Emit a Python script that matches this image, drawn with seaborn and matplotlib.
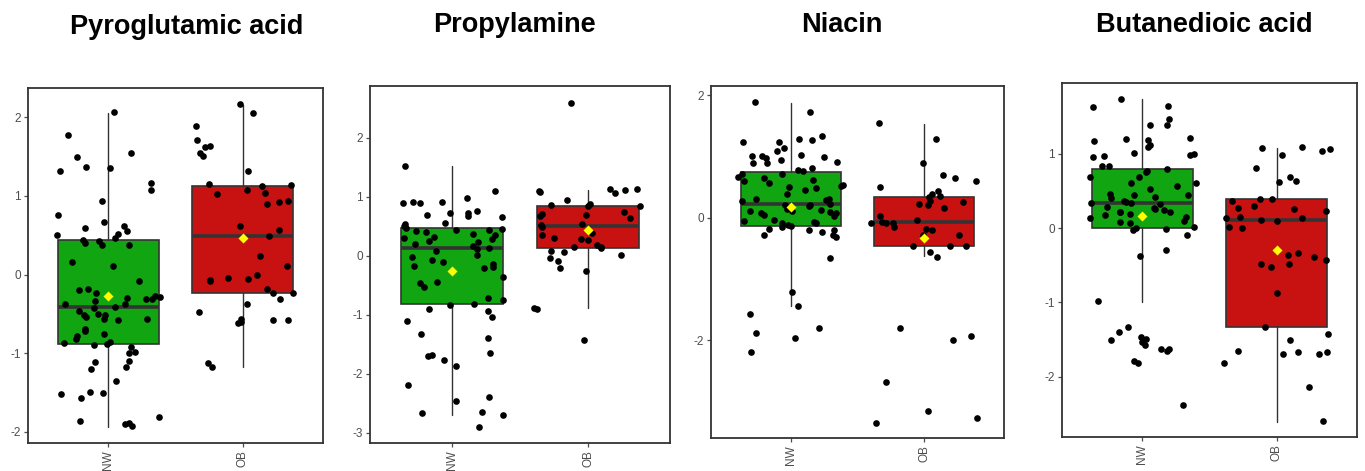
import numpy as np
import pandas as pd
import matplotlib
matplotlib.use("Agg")
import matplotlib.pyplot as plt
import seaborn as sns

sns.set_theme(style="white")
plt.rcParams['font.family'] = ['Liberation Sans', 'DejaVu Sans']

groups = ["NW", "OB"]
titles = ["Pyroglutamic acid", "Propylamine", "Niacin", "Butanedioic acid"]

# ---------------- data ----------------
pyro_nw = [2.07, 1.54, 1.37, 1.36, 1.16, 1.07, 1.77, 1.49, 1.31, 0.93, 0.76, 0.67, 0.62, 0.59,
           0.55, 0.52, 0.50, 0.46, 0.44, 0.42, 0.40, 0.37, 0.37, 0.16, 0.11, -0.08, -0.18, -0.19,
           -0.23, -0.27, -0.28, -0.30, -0.31, -0.31, -0.33, -0.37, -0.38, -0.41, -0.43, -0.46,
           -0.50, -0.51, -0.52, -0.54, -0.56, -0.57, -0.58, -0.69, -0.72, -0.76, -0.78, -0.82,
           -0.86, -0.87, -0.88, -0.89, -0.92, -0.99, -1.00, -1.10, -1.11, -1.18, -1.20, -1.35,
           -1.49, -1.51, -1.52, -1.57, -1.81, -1.86, -1.88, -1.90, -1.93]
pyro_ob = [2.17, 2.05, 1.89, 1.71, 1.63, 1.62, 1.54, 1.51, 1.32, 1.15, 1.14, 1.13, 1.07, 1.04,
           1.02, 0.93, 0.92, 0.90, 0.62, 0.56, 0.49, 0.23, 0.11, -0.01, -0.04, -0.06, -0.07,
           -0.08, -0.18, -0.23, -0.24, -0.31, -0.38, -0.48, -0.57, -0.58, -0.58, -0.60, -0.61,
           -1.18, -1.13]

propyl_nw = [1.53, 1.10, 0.98, 0.92, 0.91, 0.89, 0.90, 0.77, 0.73, 0.72, 0.69, 0.67, 0.66, 0.56,
             0.54, 0.50, 0.47, 0.45, 0.44, 0.44, 0.43, 0.41, 0.38, 0.36, 0.32, 0.30, 0.28, 0.26,
             0.24, 0.21, 0.17, 0.13, 0.11, 0.09, 0.01, -0.02, -0.07, -0.11, -0.14, -0.17, -0.18,
             -0.21, -0.35, -0.45, -0.46, -0.53, -0.72, -0.74, -0.81, -0.83, -0.90, -0.94, -1.04,
             -1.10, -1.32, -1.39, -1.64, -1.68, -1.69, -1.77, -1.86, -2.18, -2.39, -2.45, -2.65,
             -2.67, -2.69, -2.90]
propyl_ob = [2.60, 1.14, 1.13, 1.11, 1.10, 1.09, 1.06, 0.95, 0.88, 0.86, 0.85, 0.84, 0.75, 0.71,
             0.70, 0.67, 0.64, 0.54, 0.52, 0.49, 0.39, 0.36, 0.30, 0.28, 0.27, 0.19, 0.16, 0.15,
             0.13, 0.09, 0.06, 0.02, -0.03, -0.08, -0.21, -0.25, -0.89, -0.90, -1.43]

niacin_nw = [1.89, 1.72, 1.33, 1.28, 1.26, 1.24, 1.24, 1.13, 1.09, 1.03, 1.01, 1.00, 0.99, 0.98,
             0.94, 0.91, 0.89, 0.89, 0.81, 0.78, 0.76, 0.72, 0.71, 0.67, 0.64, 0.62, 0.59, 0.56,
             0.53, 0.51, 0.50, 0.48, 0.45, 0.38, 0.31, 0.30, 0.29, 0.27, 0.23, 0.21, 0.20, 0.19,
             0.14, 0.13, 0.11, 0.10, 0.09, 0.08, 0.07, 0.04, 0.02, -0.04, -0.05, -0.07, -0.08,
             -0.09, -0.12, -0.14, -0.15, -0.19, -0.20, -0.21, -0.24, -0.28, -0.29, -0.32, -0.66,
             -1.21, -1.44, -1.58, -1.80, -1.88, -1.97, -2.20]
niacin_ob = [1.54, 1.28, 0.90, 0.70, 0.64, 0.60, 0.50, 0.43, 0.38, 0.35, 0.33, 0.27, 0.26, 0.22,
             0.21, 0.15, 0.02, -0.04, -0.07, -0.08, -0.08, -0.09, -0.15, -0.19, -0.20, -0.28,
             -0.29, -0.46, -0.47, -0.47, -0.56, -0.64, -1.80, -1.93, -2.00, -2.68, -3.16, -3.28,
             -3.35]

butane_nw = [1.74, 1.64, 1.63, 1.46, 1.38, 1.38, 1.18, 1.21, 1.20, 1.12, 1.17, 1.09, 1.01, 0.99,
             0.98, 0.97, 0.95, 0.83, 0.83, 0.80, 0.77, 0.75, 0.69, 0.69, 0.61, 0.60, 0.56, 0.52,
             0.46, 0.45, 0.44, 0.42, 0.41, 0.37, 0.35, 0.34, 0.33, 0.32, 0.28, 0.27, 0.26, 0.24,
             0.22, 0.21, 0.21, 0.19, 0.18, 0.15, 0.13, 0.10, 0.08, 0.07, 0.01, 0.00, -0.01, -0.02,
             -0.10, -0.29, -0.38, -0.98, -1.33, -1.46, -1.40, -1.49, -1.50, -1.53, -1.57, -1.63,
             -1.63, -1.65, -1.79, -1.81, -2.38]
butane_ob = [1.07, 1.09, 1.06, 1.03, 0.98, 0.81, 0.69, 0.63, 0.62, 0.39, 0.39, 0.37, 0.30, 0.27,
             0.25, 0.23, 0.15, 0.14, 0.13, 0.11, 0.10, 0.01, 0.00, -0.34, -0.36, -0.39, -0.43,
             -0.48, -0.49, -0.52, -0.87, -1.33, -1.43, -1.50, -1.65, -1.67, -1.67, -1.70, -1.70,
             -1.82, -2.14, -2.60]

# box statistics per panel: [NW, OB]
q1_vals = [[-0.88, -0.24], [-0.82, 0.13], [-0.14, -0.46], [0.00, -1.33]]
median_vals = [[-0.41, 0.49], [0.13, 0.50], [0.22, -0.07], [0.34, 0.11]]
q3_vals = [[0.44, 1.13], [0.47, 0.85], [0.75, 0.34], [0.79, 0.39]]
whislo_vals = [[-1.94, -1.18], [-2.69, -0.89], [-1.44, -0.62], [-0.99, -2.61]]
whishi_vals = [[2.05, 2.15], [1.53, 1.12], [1.88, 1.53], [1.73, 1.08]]
mean_vals = [[-0.27, 0.47], [-0.25, 0.44], [0.18, -0.33], [0.16, -0.29]]

yticks_list = [[-2, -1, 0, 1, 2], [-3, -2, -1, 0, 1, 2], [-2, 0, 2], [-2, -1, 0, 1]]
ylims = [(-2.14, 2.37), (-3.17, 2.88), (-3.60, 2.15), (-2.81, 1.95)]

panel_values = [(pyro_nw, pyro_ob), (propyl_nw, propyl_ob),
                (niacin_nw, niacin_ob), (butane_nw, butane_ob)]

# ---------------- layout ----------------
W, H = 1365, 471
fig = plt.figure(figsize=(W / 100, H / 100), dpi=100)
fig.patch.set_facecolor("white")

# axes rectangles in pixels: left, top, right, bottom
ax_px = [(28, 88, 323, 443), (370, 86, 670, 443), (711, 86, 1004, 438), (1062, 83, 1357, 437)]
title_px = [(187, 27), (514, 25), (842, 25), (1204, 25)]

box_colors = ["#12A512", "#C81212"]
edge = "#333333"
tick_col = "#4D4D4D"

np.random.seed(3)
for i in range(4):
    l, t, r, b = ax_px[i]
    ax = fig.add_axes([l / W, 1 - b / H, (r - l) / W, (b - t) / H])
    nw, ob = panel_values[i]
    df = pd.DataFrame({"group": ["NW"] * len(nw) + ["OB"] * len(ob),
                       "value": list(nw) + list(ob)})

    stats = []
    for j, g in enumerate(groups):
        stats.append(dict(med=median_vals[i][j], q1=q1_vals[i][j], q3=q3_vals[i][j],
                          whislo=whislo_vals[i][j], whishi=whishi_vals[i][j], label=g))
    bp = ax.bxp(stats, positions=range(len(groups)), widths=0.75, showfliers=False,
                showcaps=False, patch_artist=True,
                boxprops=dict(edgecolor=edge, linewidth=1.2),
                whiskerprops=dict(color=edge, linewidth=1.0),
                medianprops=dict(color=edge, linewidth=2.6, solid_capstyle="butt"),
                zorder=1)
    for patch, c in zip(bp["boxes"], box_colors):
        patch.set_facecolor(c)

    sns.stripplot(data=df, x="group", y="value", order=groups, color="black",
                  jitter=0.4, size=4.8, linewidth=0, ax=ax, zorder=3)

    mdf = pd.DataFrame({"pos": list(range(len(groups))), "mean": mean_vals[i]})
    sns.scatterplot(data=mdf, x="pos", y="mean", marker="D", color="#FFFF00",
                    s=26, linewidth=0, ax=ax, zorder=4)

    ax.set_xlim(-0.6, 1.6)
    ax.set_ylim(*ylims[i])
    ax.set_yticks(yticks_list[i])
    ax.set_yticklabels([str(v) for v in yticks_list[i]])
    ax.set_xticks(range(len(groups)))
    ax.set_xticklabels(groups, rotation=90)
    ax.set_xlabel("")
    ax.set_ylabel("")
    for s in ax.spines.values():
        s.set_visible(True)
        s.set_color(edge)
        s.set_linewidth(1.3)
    ax.tick_params(axis="both", which="both", length=3, width=0.9, color=tick_col,
                   labelsize=8.5, labelcolor=tick_col, pad=2,
                   left=True, bottom=True)
    ax.grid(False)
    ax.set_facecolor("white")

    fig.text(title_px[i][0] / W, 1 - title_px[i][1] / H, titles[i], ha="center", va="center",
             fontsize=19.5, fontweight="bold", color="black")

fig.savefig("out.png", dpi=100, facecolor="white")
